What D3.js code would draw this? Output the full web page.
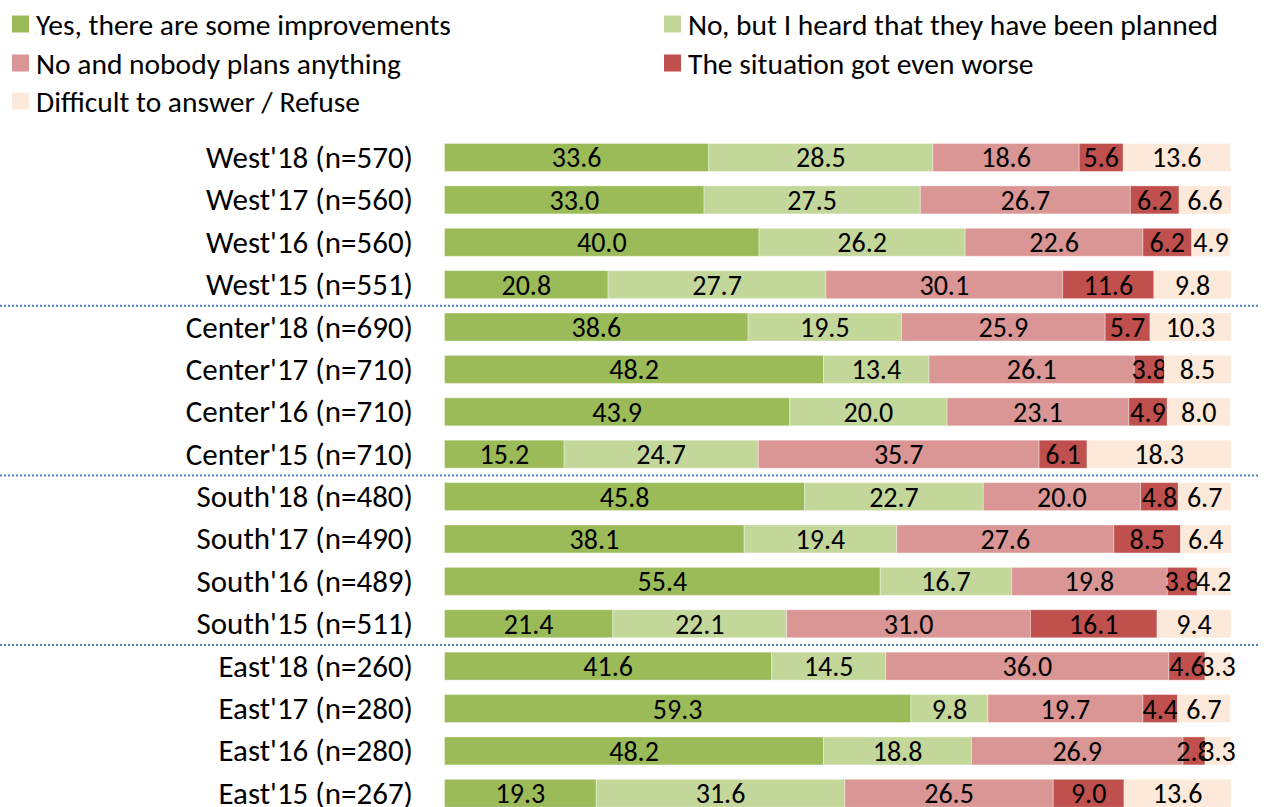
<!DOCTYPE html>
<html>
<head>
<meta charset="utf-8">
<script src="https://cdn.jsdelivr.net/npm/d3@7"></script>
<style>
  body { margin: 0; background: #fff; }
  svg { display: block; font-family: Carlito, Lato, "Open Sans", sans-serif; }
</style>
</head>
<body>
<svg id="chart"></svg>
<script>
// Data
const rows = [
  "West'18 (n=570)", "West'17 (n=560)", "West'16 (n=560)", "West'15 (n=551)",
  "Center'18 (n=690)", "Center'17 (n=710)", "Center'16 (n=710)", "Center'15 (n=710)",
  "South'18 (n=480)", "South'17 (n=490)", "South'16 (n=489)", "South'15 (n=511)",
  "East'18 (n=260)", "East'17 (n=280)", "East'16 (n=280)", "East'15 (n=267)"
];
const categories = [
  "Yes, there are some improvements",
  "No, but I heard that they have been planned",
  "No and nobody plans anything",
  "The situation got even worse",
  "Difficult to answer / Refuse"
];
const yesImproved  = [33.6, 33.0, 40.0, 20.8, 38.6, 48.2, 43.9, 15.2, 45.8, 38.1, 55.4, 21.4, 41.6, 59.3, 48.2, 19.3];
const noPlanned    = [28.5, 27.5, 26.2, 27.7, 19.5, 13.4, 20.0, 24.7, 22.7, 19.4, 16.7, 22.1, 14.5,  9.8, 18.8, 31.6];
const noNobody     = [18.6, 26.7, 22.6, 30.1, 25.9, 26.1, 23.1, 35.7, 20.0, 27.6, 19.8, 31.0, 36.0, 19.7, 26.9, 26.5];
const gotWorse     = [ 5.6,  6.2,  6.2, 11.6,  5.7,  3.8,  4.9,  6.1,  4.8,  8.5,  3.8, 16.1,  4.6,  4.4,  2.8,  9.0];
const difficult    = [13.6,  6.6,  4.9,  9.8, 10.3,  8.5,  8.0, 18.3,  6.7,  6.4,  4.2,  9.4,  3.3,  6.7,  3.3, 13.6];
const colors = ["#9BBB59", "#C4D79B", "#DA9694", "#C0504D", "#FDE9D9"];
const separatorsAfter = ["West'15 (n=551)", "Center'15 (n=710)", "South'15 (n=511)"];

const width = 1267, height = 807;
const series = [yesImproved, noPlanned, noNobody, gotWorse, difficult];
const table = rows.map((r, i) => {
  const o = { row: r };
  categories.forEach((c, k) => o[c] = series[k][i]);
  return o;
});

const svg = d3.select("#chart").attr("width", width).attr("height", height);

const x = d3.scaleLinear().domain([0, 100]).range([444.5, 1231]);
const y = d3.scaleBand().domain(rows).range([136.3, 814.5]).paddingInner(0.34).paddingOuter(0.17);

const stack = d3.stack().keys(categories)(table);

const layers = svg.append("g").selectAll("g")
  .data(stack)
  .join("g")
  .attr("fill", (d, i) => colors[i]);

layers.selectAll("rect")
  .data(d => d)
  .join("rect")
  .attr("x", d => x(d[0]))
  .attr("y", d => y(d.data.row))
  .attr("width", d => x(d[1]) - x(d[0]))
  .attr("height", y.bandwidth())
  .attr("stroke", "#fff")
  .attr("stroke-opacity", 0.35)
  .attr("stroke-width", 1);

// value labels, centred in each segment
layers.selectAll("text")
  .data(d => d.map(v => Object.assign({ key: d.key }, v)))
  .join("text")
  .attr("x", d => (x(d[0]) + x(d[1])) / 2)
  .attr("y", d => y(d.data.row) + y.bandwidth() / 2 + 10)
  .attr("text-anchor", "middle")
  .attr("fill", "#000")
  .attr("font-size", 28)
  .text(d => d.data[d.key].toFixed(1));

// Row labels
svg.append("g").selectAll("text")
  .data(rows)
  .join("text")
  .attr("x", 413)
  .attr("y", d => y(d) + y.bandwidth() / 2 + 10.5)
  .attr("text-anchor", "end")
  .attr("font-size", 31)
  .attr("fill", "#000")
  .text(d => d);

// Dotted separators between regions
const step = y.step();
svg.append("g").selectAll("line")
  .data(separatorsAfter)
  .join("line")
  .attr("x1", 0)
  .attr("x2", 1260)
  .attr("y1", d => y(d) + y.bandwidth() + (step - y.bandwidth()) / 2)
  .attr("y2", d => y(d) + y.bandwidth() + (step - y.bandwidth()) / 2)
  .attr("stroke", "#4F81BD")
  .attr("stroke-width", 2)
  .attr("stroke-dasharray", "2,2");

// Legend
const legendPos = [[12, 24], [664, 24], [12, 63], [664, 63], [12, 101]];
const legend = svg.append("g").selectAll("g")
  .data(categories)
  .join("g")
  .attr("transform", (d, i) => `translate(${legendPos[i][0]},${legendPos[i][1]})`);
legend.append("rect")
  .attr("x", 0).attr("y", -8.5)
  .attr("width", 17).attr("height", 17)
  .attr("fill", (d, i) => colors[i]);
legend.append("text")
  .attr("x", 24)
  .attr("y", 10.5)
  .attr("font-size", 29.5)
  .attr("fill", "#000")
  .text(d => d);
</script>
</body>
</html>
